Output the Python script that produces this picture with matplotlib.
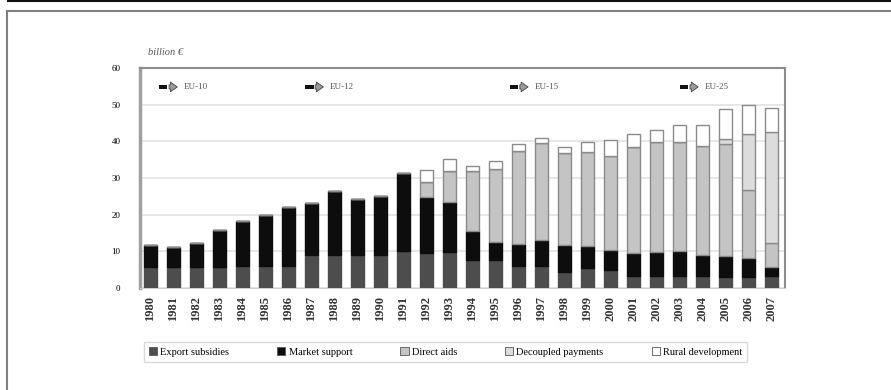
import matplotlib
matplotlib.use("Agg")
import matplotlib.pyplot as plt
import numpy as np
from matplotlib.lines import Line2D
from matplotlib.patches import Rectangle

plt.rcParams["font.family"] = ["Liberation Serif", "DejaVu Serif"]

years = [str(y) for y in range(1980, 2008)]
export_subsidies = [5.8, 5.8, 5.8, 5.8, 6.0, 6.0, 6.0, 9.0, 9.0, 9.0, 9.0, 10.0, 9.5, 9.9,
                    7.6, 7.6, 6.0, 6.0, 4.5, 5.5, 5.0, 3.3, 3.3, 3.3, 3.3, 3.0, 3.0, 3.3]
market_support = [5.9, 5.5, 6.4, 10.0, 12.3, 13.9, 16.2, 14.3, 17.5, 15.2, 16.0, 21.5, 15.4, 13.6,
                  8.0, 5.0, 6.0, 7.1, 7.2, 6.0, 5.5, 6.2, 6.4, 6.9, 5.7, 5.7, 5.1, 2.5]
direct_aids = [0, 0, 0, 0, 0, 0, 0, 0, 0, 0, 0, 0, 4.0, 8.5,
               16.2, 19.9, 25.5, 26.4, 25.2, 25.5, 25.6, 29.0, 30.2, 29.7, 29.7, 30.7, 18.6, 6.5]
decoupled = [0] * 25 + [1.2, 15.2, 30.3]
rural_dev = [0, 0, 0, 0, 0, 0, 0, 0, 0, 0, 0, 0, 3.3, 3.1,
             1.5, 2.1, 1.8, 1.3, 1.6, 2.9, 4.4, 3.5, 3.2, 4.5, 5.7, 8.1, 8.0, 6.4]

enlargements = ["EU-10", "EU-12", "EU-15", "EU-25"]
enlargement_pos = [0.85, 7.2, 16.1, 23.5]

series = [
    ("Export subsidies", export_subsidies, "#4d4d4d", "#4d4d4d"),
    ("Market support", market_support, "#0d0d0d", "#0d0d0d"),
    ("Direct aids", direct_aids, "#c4c4c4", "#8a8a8a"),
    ("Decoupled payments", decoupled, "#dcdcdc", "#8a8a8a"),
    ("Rural development", rural_dev, "#ffffff", "#8a8a8a"),
]

fig = plt.figure(figsize=(8.91, 3.90), dpi=100)
ax = fig.add_axes([0.157, 0.2615, 0.724, 0.564])

x = np.arange(len(years))
bottom = np.zeros(len(years))
handles = []
for name, vals, fc, ec in series:
    vals = np.array(vals, dtype=float)
    ax.bar(x, vals, 0.58, bottom=bottom, color=fc, edgecolor=ec, linewidth=1.0, zorder=3)
    bottom += vals
    handles.append(Rectangle((0, 0), 1, 1, facecolor=fc, edgecolor="#555555", linewidth=0.6))

ax.set_xlim(-0.45, 27.6)
ax.set_ylim(0, 60)
ax.set_yticks(range(0, 61, 10))
ax.yaxis.grid(True, color="#e2e2e2", linewidth=1.2, zorder=0)
ax.set_axisbelow(True)
ax.tick_params(axis="y", length=0, labelsize=6.5, pad=14)
ax.set_xticks(x)
ax.set_xticklabels(years, rotation=90, fontsize=9, fontweight="bold", color="#333333")
ax.tick_params(axis="x", length=0, pad=6)
for s in ["top", "right"]:
    ax.spines[s].set_color("#8c8c8c")
    ax.spines[s].set_linewidth(1.5)
ax.spines["left"].set_color("#a0a0a0")
ax.spines["left"].set_linewidth(2.5)
ax.spines["bottom"].set_color("#d0d0d0")
ax.spines["bottom"].set_linewidth(0.8)

ax.text(-0.1, 63.5, "billion €", fontsize=7.5, style="italic", color="#555555")

for label, pos in zip(enlargements, enlargement_pos):
    ax.add_patch(Rectangle((pos - 0.45, 54.3), 0.35, 1.1, facecolor="#111111",
                           edgecolor="none", zorder=4))
    ax.annotate("", xy=(pos + 0.45, 54.85), xytext=(pos - 0.15, 54.85),
                arrowprops=dict(arrowstyle="simple,head_width=0.7,head_length=0.5,tail_width=0.3",
                                fc="#9a9a9a", ec="#444444", lw=0.6), zorder=4)
    ax.text(pos + 0.6, 54.85, label, fontsize=6.5, va="center", color="#555555")

fig.legend(handles, [s[0] for s in series], loc="center", bbox_to_anchor=(0.5, 0.097),
           ncol=5, fontsize=7.5, frameon=True, edgecolor="#d0d0d0", fancybox=False,
           handlelength=0.8, handleheight=0.8, handletextpad=0.3, columnspacing=4.6,
           borderpad=0.5)

fig.add_artist(Line2D([0.009, 1.0], [0.997, 0.997], color="#111111", linewidth=1.5))
fig.add_artist(Line2D([0.008, 1.0], [0.972, 0.972], color="#808080", linewidth=1.5))
fig.add_artist(Line2D([0.008, 0.008], [0.0, 0.972], color="#808080", linewidth=1.5))

fig.savefig("out.png", dpi=100)
